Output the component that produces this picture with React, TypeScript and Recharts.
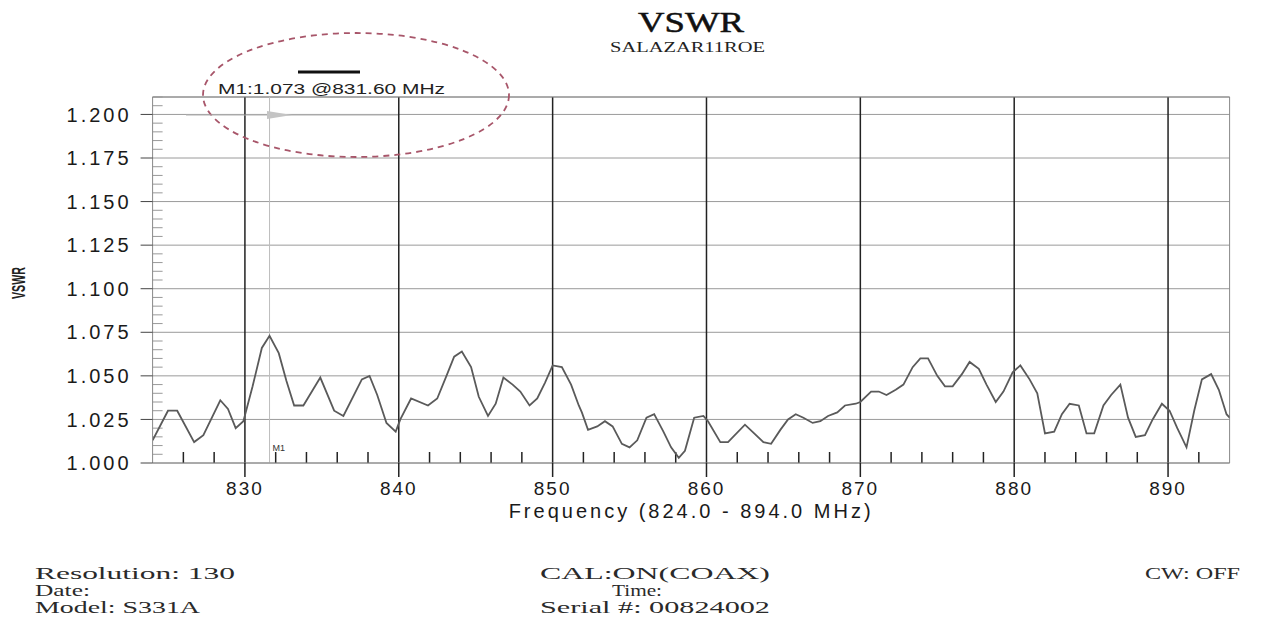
import { LineChart, Line, XAxis, YAxis, CartesianGrid, ReferenceLine, Label } from 'recharts';

const freqs = [
  824.0, 825.0, 825.6, 826.7, 827.3, 828.4, 828.9, 829.4, 829.9, 830.5,
  831.1, 831.6, 832.2, 832.7, 833.2, 833.8, 834.9, 835.8, 836.4, 837.6,
  838.1, 838.6, 839.2, 839.8, 840.1, 840.8, 841.9, 842.5, 843.1, 843.6,
  844.1, 844.7, 845.2, 845.8, 846.3, 846.8, 847.4, 847.9, 848.5, 849.0,
  849.5, 850.0, 850.6, 851.2, 851.7, 851.9, 852.3, 852.9, 853.4, 853.9,
  854.5, 855.0, 855.5, 856.1, 856.6, 857.2, 857.7, 858.2, 858.6, 859.2,
  859.8, 860.1, 860.9, 861.4, 862.5, 863.1, 863.7, 864.2, 864.8, 865.3,
  865.8, 866.3, 866.9, 867.4, 867.9, 868.5, 869.0, 869.7, 870.0, 870.7,
  871.2, 871.7, 872.3, 872.8, 873.4, 873.9, 874.4, 875.0, 875.5, 876.0,
  876.6, 877.1, 877.7, 878.2, 878.8, 879.3, 879.9, 880.4, 881.0, 881.5,
  882.0, 882.6, 883.1, 883.6, 884.2, 884.7, 885.2, 885.8, 886.3, 886.9,
  887.4, 887.9, 888.5, 889.0, 889.6, 890.1, 890.6, 891.2, 891.7, 892.2,
  892.8, 893.3, 893.8, 894.0,
];

const vswr = [
  1.013, 1.030, 1.030, 1.012, 1.016, 1.036, 1.031, 1.020, 1.024, 1.044,
  1.066, 1.073, 1.063, 1.047, 1.033, 1.033, 1.049, 1.030, 1.027, 1.048,
  1.050, 1.039, 1.023, 1.018, 1.025, 1.037, 1.033, 1.037, 1.050, 1.061,
  1.064, 1.055, 1.038, 1.027, 1.034, 1.049, 1.045, 1.041, 1.033, 1.037,
  1.046, 1.056, 1.055, 1.045, 1.033, 1.029, 1.019, 1.021, 1.024, 1.021,
  1.011, 1.009, 1.013, 1.026, 1.028, 1.018, 1.009, 1.003, 1.007, 1.026,
  1.027, 1.024, 1.012, 1.012, 1.022, 1.017, 1.012, 1.011, 1.019, 1.025,
  1.028, 1.026, 1.023, 1.024, 1.027, 1.029, 1.033, 1.034, 1.035, 1.041,
  1.041, 1.039, 1.042, 1.045, 1.055, 1.060, 1.060, 1.050, 1.044, 1.044,
  1.051, 1.058, 1.054, 1.045, 1.035, 1.041, 1.052, 1.056, 1.048, 1.040,
  1.017, 1.018, 1.028, 1.034, 1.033, 1.017, 1.017, 1.033, 1.039, 1.045,
  1.026, 1.015, 1.016, 1.025, 1.034, 1.030, 1.020, 1.009, 1.030, 1.048,
  1.051, 1.042, 1.028, 1.026,
];

const xTicks = [830, 840, 850, 860, 870, 880, 890];
const xMinorTicks = [
  826, 828, 832, 834, 836, 838, 842, 844, 846, 848, 852, 854, 856, 858,
  862, 864, 866, 868, 872, 874, 876, 878, 882, 884, 886, 888, 892,
];
const yTicks = [1.0, 1.025, 1.05, 1.075, 1.1, 1.125, 1.15, 1.175, 1.2];
const yMinorTicks: number[] = [];
for (let i = 1; i <= 42; i++) {
  if (i % 5 !== 0) yMinorTicks.push(1 + i * 0.005);
}

const marker = { freq: 831.6, value: 1.073 };

const data = freqs.map((f, i) => ({ f, v: vswr[i] }));

const sans = '"Liberation Sans", Arial, sans-serif';
const serif = '"Liberation Serif", "Times New Roman", serif';

const MarkerLabel = (props: any) => {
  const vb = props.viewBox || {};
  return (
    <text x={vb.x + 3} y={vb.y + vb.height - 12} fontSize={9} fontFamily={sans} fill="#333">
      M1
    </text>
  );
};

export default function App() {
  return (
    <div style={{ position: 'absolute', left: 0, top: 0, width: 1275, height: 620, background: '#fff' }}>
      <LineChart width={1275} height={620} data={data} margin={{ top: 97, right: 45.4, bottom: 127, left: 72.6 }}>
        <CartesianGrid horizontal vertical={false} stroke="#9a9a9a" />
        <XAxis
          dataKey="f"
          type="number"
          domain={[824, 894]}
          ticks={xTicks}
          interval={0}
          allowDataOverflow
          height={30}
          tickSize={14}
          tickMargin={5}
          axisLine={{ stroke: '#888' }}
          tickLine={{ stroke: '#222', strokeWidth: 1.5 }}
          tick={{ fill: '#1a1a1a', fontSize: 19, fontFamily: sans, letterSpacing: 2 }}
        >
          <Label
            value="Frequency (824.0 - 894.0 MHz)"
            position="bottom"
            offset={11}
            style={{ fill: '#1a1a1a', fontSize: 20, fontFamily: sans, letterSpacing: 3 }}
          />
        </XAxis>
        <YAxis
          type="number"
          domain={[1.0, 1.21]}
          ticks={yTicks}
          interval={0}
          allowDataOverflow
          width={80}
          tickSize={12}
          tickMargin={9}
          tickFormatter={(v: number) => v.toFixed(3)}
          axisLine={{ stroke: '#888' }}
          tickLine={{ stroke: '#444' }}
          tick={{ fill: '#1a1a1a', fontSize: 20, fontFamily: sans, letterSpacing: 3 }}
        />
        {xTicks.map((t) => (
          <ReferenceLine key={`xv-${t}`} x={t} stroke="#222" strokeWidth={1.5} />
        ))}
        <ReferenceLine y={1.21} stroke="#888" />
        <ReferenceLine x={894} stroke="#888" />
        {xMinorTicks.map((t) => (
          <ReferenceLine
            key={`xm-${t}`}
            segment={[{ x: t, y: 1.0 }, { x: t, y: 1.0063 }]}
            stroke="#222"
            strokeWidth={1.5}
          />
        ))}
        {yMinorTicks.map((t) => (
          <ReferenceLine
            key={`ym-${t}`}
            segment={[{ x: 824, y: t }, { x: 824.65, y: t }]}
            stroke="#999"
          />
        ))}
        <ReferenceLine x={marker.freq} stroke="#bdbdbd" label={<MarkerLabel />} />
        <Line
          type="linear"
          dataKey="v"
          stroke="#5a5a5a"
          strokeWidth={1.8}
          dot={false}
          isAnimationActive={false}
        />
      </LineChart>
      <svg
        width={1275}
        height={620}
        style={{ position: 'absolute', left: 0, top: 0, pointerEvents: 'none' }}
      >
        <text x={638} y={32} fontFamily={serif} fontSize={30} fill="#111" stroke="#111" strokeWidth={0.5} textLength={106} lengthAdjust="spacingAndGlyphs">
          VSWR
        </text>
        <text x={610} y={52} fontFamily={serif} fontSize={15} fill="#222" textLength={155} lengthAdjust="spacingAndGlyphs">
          SALAZAR11ROE
        </text>
        <ellipse cx={356} cy={95} rx={153} ry={62} fill="none" stroke="#a8566a" strokeWidth={1.8} strokeDasharray="6 5" />
        <line x1={298} x2={360} y1={72} y2={72} stroke="#111" strokeWidth={3} />
        <text x={218} y={94} fontFamily={sans} fontSize={14} fill="#222" textLength={227} lengthAdjust="spacingAndGlyphs">
          {`M1:${marker.value.toFixed(3)} @${marker.freq.toFixed(2)} MHz`}
        </text>
        <line x1={186} x2={398} y1={115} y2={115} stroke="#b0b0b0" />
        <polygon points="267,111 292,115 267,119" fill="#c4c4c4" />
        <text
          x={0}
          y={0}
          transform="translate(25,283) rotate(-90)"
          textAnchor="middle"
          fontFamily={sans}
          fontSize={18}
          fontWeight="bold"
          fill="#222"
          textLength={32}
          lengthAdjust="spacingAndGlyphs"
        >
          VSWR
        </text>
        <g fontFamily={serif} fontSize={17} fill="#2a2a2a">
          <text x={35} y={579} textLength={200} lengthAdjust="spacingAndGlyphs">Resolution:  130</text>
          <text x={35} y={596} textLength={55} lengthAdjust="spacingAndGlyphs">Date:</text>
          <text x={35} y={613} textLength={165} lengthAdjust="spacingAndGlyphs">Model: S331A</text>
          <text x={540} y={579} textLength={230} lengthAdjust="spacingAndGlyphs">CAL:ON(COAX)</text>
          <text x={612} y={596} textLength={50} lengthAdjust="spacingAndGlyphs">Time:</text>
          <text x={540} y={613} textLength={230} lengthAdjust="spacingAndGlyphs">Serial #: 00824002</text>
          <text x={1145} y={579} textLength={95} lengthAdjust="spacingAndGlyphs">CW: OFF</text>
        </g>
      </svg>
    </div>
  );
}
